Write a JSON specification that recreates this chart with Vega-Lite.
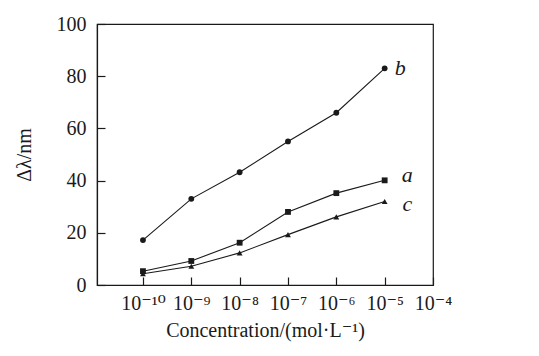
{
  "$schema": "https://vega.github.io/schema/vega-lite/v6.json",
  "width": 336,
  "height": 261,
  "autosize": {"type": "none"},
  "padding": {"left": 97, "top": 24, "right": 106, "bottom": 71},
  "background": "white",
  "config": {
    "view": {"stroke": "#1a1a1a", "strokeWidth": 1.2},
    "font": "Liberation Serif",
    "axis": {
      "grid": false,
      "domainColor": "#1a1a1a",
      "domainWidth": 1.2,
      "tickColor": "#1a1a1a",
      "tickWidth": 1.2,
      "labelFont": "Liberation Serif, DejaVu Serif",
      "labelFontSize": 20,
      "labelColor": "#1a1a1a",
      "titleFont": "Liberation Serif, DejaVu Serif",
      "titleFontSize": 20,
      "titleFontWeight": "normal",
      "titleColor": "#1a1a1a"
    }
  },
  "datasets": {
    "pts": [
      {"series": "b", "conc": 1e-10, "shift": 17.2},
      {"series": "b", "conc": 1e-9, "shift": 33},
      {"series": "b", "conc": 1e-8, "shift": 43.2},
      {"series": "b", "conc": 1e-7, "shift": 55},
      {"series": "b", "conc": 1e-6, "shift": 66},
      {"series": "b", "conc": 1e-5, "shift": 83},
      {"series": "a", "conc": 1e-10, "shift": 5.3},
      {"series": "a", "conc": 1e-9, "shift": 9.2},
      {"series": "a", "conc": 1e-8, "shift": 16.2},
      {"series": "a", "conc": 1e-7, "shift": 28},
      {"series": "a", "conc": 1e-6, "shift": 35.2},
      {"series": "a", "conc": 1e-5, "shift": 40.1},
      {"series": "c", "conc": 1e-10, "shift": 4.3},
      {"series": "c", "conc": 1e-9, "shift": 7.2},
      {"series": "c", "conc": 1e-8, "shift": 12.3},
      {"series": "c", "conc": 1e-7, "shift": 19.3},
      {"series": "c", "conc": 1e-6, "shift": 26.1},
      {"series": "c", "conc": 1e-5, "shift": 32}
    ],
    "labels": [
      {"label": "b", "conc": 2.1e-5, "shift": 83},
      {"label": "a", "conc": 2.95e-5, "shift": 42.3},
      {"label": "c", "conc": 2.95e-5, "shift": 31}
    ]
  },
  "layer": [
    {
      "data": {"name": "pts"},
      "mark": {"type": "line", "color": "#1a1a1a", "strokeWidth": 1.1},
      "encoding": {
        "x": {
          "field": "conc", "type": "quantitative",
          "scale": {"type": "log", "domain": [1.12e-11, 1e-4], "nice": false},
          "axis": {
            "title": "Concentration/(mol·L⁻¹)",
            "values": [1e-10, 1e-9, 1e-8, 1e-7, 1e-6, 1e-5, 1e-4],
            "labelExpr": "'10' + ({'-10':'⁻¹⁰','-9':'⁻⁹','-8':'⁻⁸','-7':'⁻⁷','-6':'⁻⁶','-5':'⁻⁵','-4':'⁻⁴'})[''+round(log(datum.value)/LN10)]",
            "labelOverlap": false,
            "labelFlush": false,
            "labelBound": false,
            "tickSize": -8,
            "labelPadding": 16,
            "titlePadding": 7
          }
        },
        "y": {
          "field": "shift", "type": "quantitative",
          "scale": {"domain": [0, 100], "nice": false},
          "axis": {
            "title": "Δλ/nm",
            "values": [0, 20, 40, 60, 80, 100],
            "labelOverlap": false,
            "labelFlush": false,
            "tickSize": -8,
            "labelPadding": 19,
            "titlePadding": 22
          }
        },
        "detail": {"field": "series"}
      }
    },
    {
      "data": {"name": "pts"},
      "mark": {"type": "point", "filled": true, "color": "#1a1a1a", "opacity": 1, "size": 34},
      "encoding": {
        "x": {"field": "conc", "type": "quantitative"},
        "y": {"field": "shift", "type": "quantitative"},
        "shape": {
          "field": "series", "type": "nominal",
          "scale": {"domain": ["a", "b", "c"], "range": ["square", "circle", "triangle-up"]},
          "legend": null
        }
      }
    },
    {
      "data": {"name": "labels"},
      "mark": {"type": "text", "font": "Liberation Serif", "fontStyle": "italic", "fontSize": 22, "color": "#1a1a1a", "align": "center", "baseline": "middle"},
      "encoding": {
        "x": {"field": "conc", "type": "quantitative"},
        "y": {"field": "shift", "type": "quantitative"},
        "text": {"field": "label"}
      }
    }
  ]
}
